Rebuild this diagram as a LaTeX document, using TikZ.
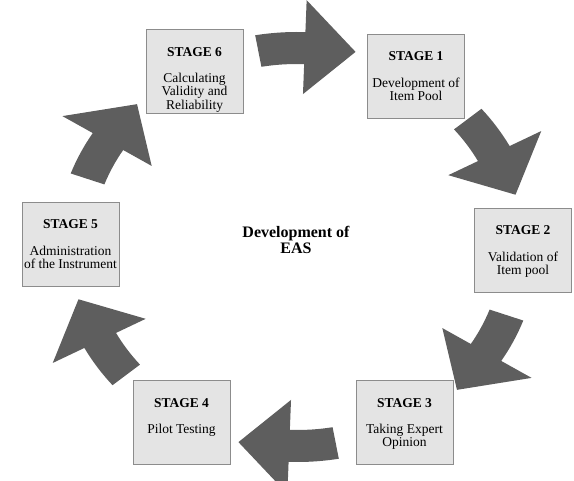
\documentclass[tikz,border=0pt]{standalone}
\usepackage{fontspec}
\setmainfont{Liberation Serif}
\usepackage{tikz}
\definecolor{arrowgray}{HTML}{5E5E5E}
\definecolor{boxgray}{HTML}{E4E4E4}
\definecolor{edgegray}{HTML}{8C8C8C}
\tikzstyle{stagebox} = [draw=edgegray, fill=boxgray, line width=0.9pt, rectangle, inner sep=0pt]
\tikzstyle{centertitle} = [align=center, font=\fontsize{16}{16}\selectfont\bfseries]
\newcommand{\stagetext}[2]{\parbox[c][84pt][t]{97pt}{\centering\fontsize{13.5}{13.2}\selectfont\vspace*{18pt}\textbf{STAGE #1}\\[13pt]#2}}
\newcommand{\cyclearrow}[1]{%
	\pgfmathsetmacro{\arrbase}{#1-12}%
	\pgfmathsetmacro{\arrtip}{#1-25}%
	\fill[arrowgray] (#1:215) arc[start angle=#1, end angle=\arrbase, radius=215pt]
		-- (\arrbase:247) -- (\arrtip:202) -- (\arrbase:153) -- (\arrbase:183)
		arc[start angle=\arrbase, end angle=#1, radius=183pt] -- cycle;}

\begin{document}
\begin{tikzpicture}[x=1pt, y=1pt]
	\useasboundingbox (0,0) rectangle (574,-481);
	\begin{scope}[shift={(297,-247)}, xscale=1.12]
		\cyclearrow{100}
		\cyclearrow{40}
		\cyclearrow{-20}
		\cyclearrow{-80}
		\cyclearrow{-140}
		\cyclearrow{160}
	\end{scope}
	\node[stagebox] (s1) at (416,-76) {\stagetext{1}{Development of\\Item Pool}};
	\node[stagebox] (s2) at (523,-250) {\stagetext{2}{Validation of\\Item pool}};
	\node[stagebox] (s3) at (404.5,-422.5) {\stagetext{3}{Taking Expert\\Opinion}};
	\node[stagebox] (s4) at (181.5,-422.5) {\stagetext{4}{Pilot Testing}};
	\node[stagebox] (s5) at (70.5,-244) {\stagetext{5}{Administration\\of the Instrument}};
	\node[stagebox] (s6) at (194.5,-71.5) {\stagetext{6}{Calculating\\Validity and\\Reliability}};
	\node[centertitle] (eas) at (296,-240) {Development of\\EAS};
\end{tikzpicture}
\end{document}
